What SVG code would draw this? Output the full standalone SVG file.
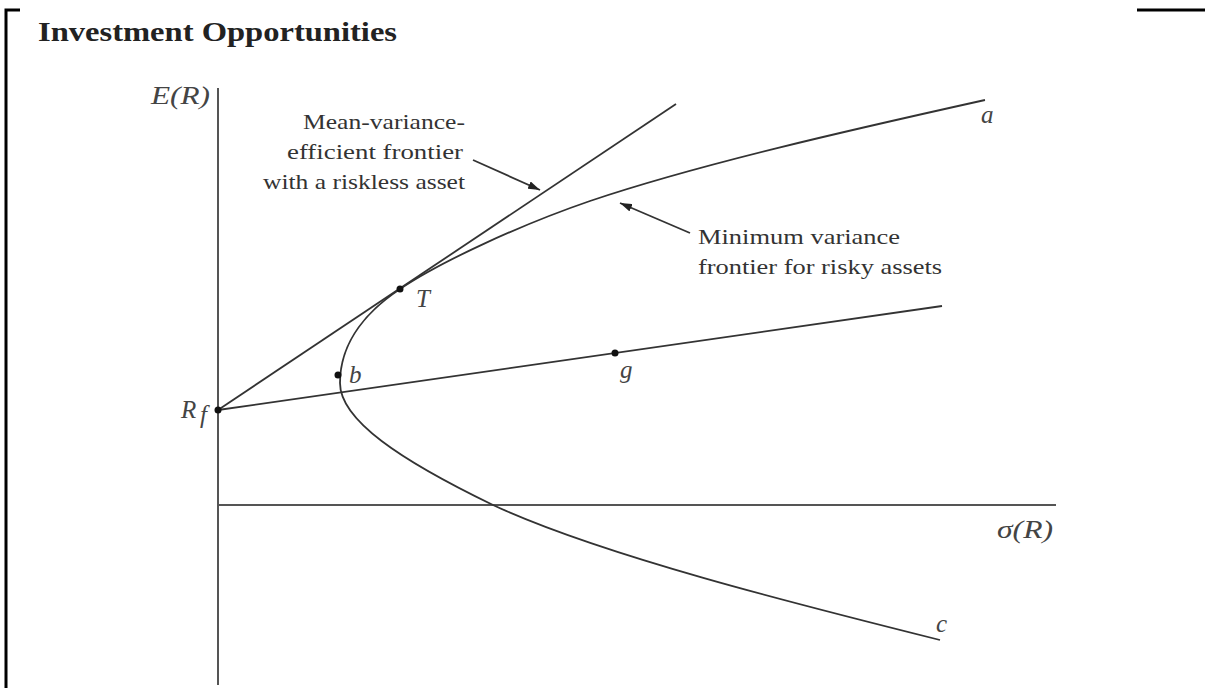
<svg xmlns="http://www.w3.org/2000/svg" width="1205" height="688" viewBox="0 0 1205 688">
<style>
.frame{stroke:#000;stroke-width:3;fill:none}
.axis{stroke:#555;stroke-width:2;fill:none}
.curve{stroke:#333;stroke-width:1.8;fill:none;stroke-linejoin:round}
.ptr{stroke:#333;stroke-width:1.8;fill:none;marker-end:url(#ah)}
.dot{fill:#111}
.lbl{font-family:"Liberation Serif",serif;font-size:22px;fill:#333}
.it{font-family:"Liberation Serif",serif;font-style:italic;font-size:25px;fill:#444}
.title{font-family:"Liberation Serif",serif;font-weight:bold;font-size:27px;fill:#222}
</style>
<defs>
<marker id="ah" viewBox="0 0 12 8" refX="12" refY="4" markerWidth="12" markerHeight="8" markerUnits="userSpaceOnUse" orient="auto">
<path d="M0 0 L12 4 L0 8 Z" fill="#222"/>
</marker>
</defs>
<rect width="1205" height="688" fill="#fff"/>
<g id="frame">
<path class="frame" d="M6 688 V10 H20"/>
<path class="frame" d="M1137 10 H1205"/>
</g>
<g id="title"><text class="title" x="38" y="41" textLength="359" lengthAdjust="spacingAndGlyphs">Investment Opportunities</text></g>
<g id="axes">
<path class="axis" d="M218 88 V685"/>
<path class="axis" d="M218 505 H1056"/>
<text class="it" x="151" y="104" textLength="59" lengthAdjust="spacingAndGlyphs">E(R)</text>
<text class="it" x="997" y="538" textLength="56" lengthAdjust="spacingAndGlyphs">σ(R)</text>
</g>
<g id="connectors">
<path id="cml" class="curve" d="M218 410 L676 104"/>
<path id="rfg" class="curve" d="M218 410 L942 306"/>
<path id="frontier" class="curve" d="M985 100 C850 130,700 164,590 201 C520 225,440 262,400 289 C370 309,340 340,340 383 C340 420,400 460,493 505 C600 555,800 605,940 640"/>
<path class="ptr" d="M473 160 L540 190"/>
<path class="ptr" d="M690 233 L620 203"/>
</g>
<g id="node-Rf">
<circle class="dot" cx="218" cy="410" r="3.5"/>
<text class="it" x="181" y="418">R</text>
<text class="it" x="200" y="423" font-size="15">f</text>
</g>
<g id="node-T">
<circle class="dot" cx="400" cy="289" r="3.5"/>
<text class="it" x="416" y="307">T</text>
</g>
<g id="node-b">
<circle class="dot" cx="338" cy="375" r="3.5"/>
<text class="it" x="349" y="383">b</text>
</g>
<g id="node-g">
<circle class="dot" cx="615" cy="353" r="3.5"/>
<text class="it" x="620" y="378">g</text>
</g>
<g id="node-a"><text class="it" x="981" y="123">a</text></g>
<g id="node-c"><text class="it" x="936" y="632">c</text></g>
<g id="label-cml">
<text class="lbl" x="465" y="129" text-anchor="end" textLength="162" lengthAdjust="spacingAndGlyphs">Mean-variance-</text>
<text class="lbl" x="463" y="159" text-anchor="end" textLength="176" lengthAdjust="spacingAndGlyphs">efficient frontier</text>
<text class="lbl" x="465" y="189" text-anchor="end" textLength="202" lengthAdjust="spacingAndGlyphs">with a riskless asset</text>
</g>
<g id="label-frontier">
<text class="lbl" x="698" y="244" textLength="202" lengthAdjust="spacingAndGlyphs">Minimum variance</text>
<text class="lbl" x="698" y="274" textLength="244" lengthAdjust="spacingAndGlyphs">frontier for risky assets</text>
</g>
</svg>
